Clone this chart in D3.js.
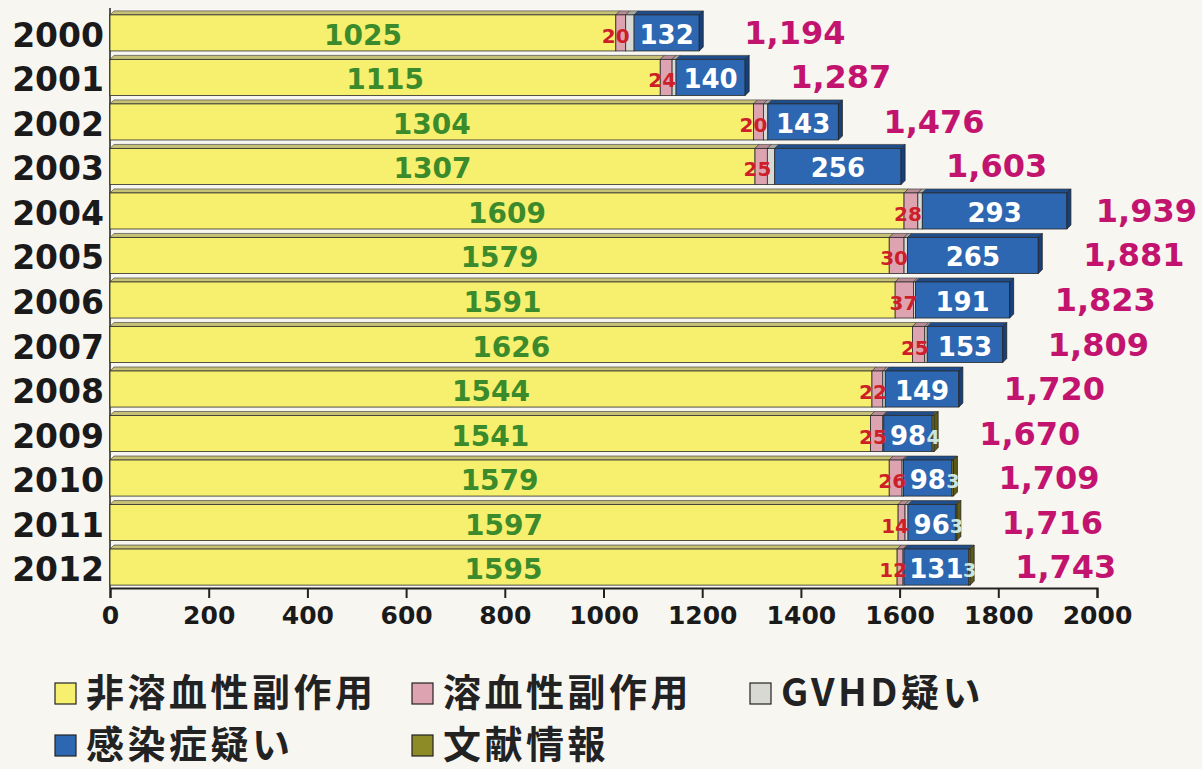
<!DOCTYPE html>
<html><head><meta charset="utf-8">
<script src="https://cdn.jsdelivr.net/npm/d3@7"></script>
<style>
html,body{margin:0;padding:0;background:#f8f6f1;}
svg{display:block;}
</style></head>
<body>
<svg id="chart" width="1202" height="769"></svg>
<script>
const years = ["2000","2001","2002","2003","2004","2005","2006","2007","2008","2009","2010","2011","2012"];
const nonHemolytic = [1025,1115,1304,1307,1609,1579,1591,1626,1544,1541,1579,1597,1595];
const hemolytic    = [20,24,20,25,28,30,37,25,22,25,26,14,12];
const gvhd         = [17,8,9,15,9,7,4,5,5,2,3,6,2];
const infection    = [132,140,143,256,293,265,191,153,149,98,98,96,131];
const literature   = [0,0,0,0,0,0,0,0,0,4,3,3,3];
const totals       = ["1,194","1,287","1,476","1,603","1,939","1,881","1,823","1,809","1,720","1,670","1,709","1,716","1,743"];
const xTicks = [0,200,400,600,800,1000,1200,1400,1600,1800,2000];
const legendNames = ["非溶血性副作用","溶血性副作用","GVHD疑い","感染症疑い","文献情報"];

const seriesKeys = ["nonHemolytic","hemolytic","gvhd","infection","literature"];
const front = {nonHemolytic:"#f6f06e",hemolytic:"#dea3b1",gvhd:"#d9d9d3",infection:"#2d67b1",literature:"#8d8b26"};
const topC  = {nonHemolytic:"#c7c176",hemolytic:"#b98b94",gvhd:"#a9a9a3",infection:"#1f4d8a",literature:"#6b6919"};
const sideC = {nonHemolytic:"#b0aa55",hemolytic:"#a07080",gvhd:"#909090",infection:"#17407a",literature:"#5d5b14"};

const table = years.map((y,i)=>({year:y,nonHemolytic:nonHemolytic[i],hemolytic:hemolytic[i],gvhd:gvhd[i],infection:infection[i],literature:literature[i],total:totals[i]}));
const stack = d3.stack().keys(seriesKeys)(table);

const svg = d3.select("#chart");
const x = d3.scaleLinear().domain([0,2000]).range([110,1097]);
const y = d3.scaleBand().domain(years).range([10,586]).paddingInner(0.1).paddingOuter(0.02);
const bw = y.bandwidth();
const depth = 4;
const num = "'DejaVu Sans', Arial, sans-serif";

svg.append("line").attr("x1",110).attr("x2",110).attr("y1",8).attr("y2",588)
  .attr("stroke","#222").attr("stroke-width",1.5);

const g = svg.append("g");
stack.forEach(layer=>{
  const key = layer.key;
  layer.forEach((d,i)=>{
    const x0 = x(d[0]), x1 = x(d[1]);
    if (x1 - x0 <= 0) return;
    const y0 = y(years[i]);
    g.append("path")
      .attr("d",`M${x0},${y0+depth}L${x0+depth},${y0}L${x1+depth},${y0}L${x1},${y0+depth}Z`)
      .attr("fill",topC[key]).attr("stroke","#333").attr("stroke-width",0.6);
    g.append("rect").attr("x",x0).attr("y",y0+depth).attr("width",x1-x0).attr("height",bw-depth)
      .attr("fill",front[key]).attr("stroke","#2a2a2a").attr("stroke-width",0.8);
  });
});
table.forEach((d,i)=>{
  const last = [...seriesKeys].reverse().find(k=>d[k]>0);
  const tot = seriesKeys.reduce((s,k)=>s+d[k],0);
  const x1 = x(tot), y0 = y(d.year);
  g.append("path")
    .attr("d",`M${x1},${y0+depth}L${x1+depth},${y0}L${x1+depth},${y0+bw-depth}L${x1},${y0+bw}Z`)
    .attr("fill",sideC[last]).attr("stroke","#222").attr("stroke-width",0.8);
});

const ax = svg.append("g").attr("transform","translate(0,588)")
  .call(d3.axisBottom(x).tickValues(xTicks).tickSize(10).tickPadding(8).tickFormat(d3.format("d")));
ax.select(".domain").attr("stroke","#222").attr("stroke-width",2);
ax.selectAll(".tick line").attr("stroke","#222").attr("stroke-width",2);
ax.selectAll("text").attr("font-family",num).attr("font-weight","bold").attr("font-size",25).attr("fill","#1a1a1a");

svg.append("g").selectAll("text").data(years).join("text")
  .attr("x",104).attr("y",d=>y(d)+bw/2+16).attr("text-anchor","end")
  .attr("font-family",num).attr("font-weight","bold").attr("font-size",33).attr("fill","#1a1a1a")
  .text(d=>d);

const labels = svg.append("g");
table.forEach((d,i)=>{
  const s = stack;
  const cy = y(d.year)+bw/2+2;
  const yl = s[0][i];
  labels.append("text").attr("x",(x(yl[0])+x(yl[1]))/2).attr("y",cy+12).attr("text-anchor","middle")
    .attr("font-family",num).attr("font-weight","bold").attr("font-size",28).attr("fill","#3b8a2b").text(d.nonHemolytic);
  const pk = s[1][i];
  labels.append("text").attr("x",x(pk[1])+4).attr("y",cy+10).attr("text-anchor","end")
    .attr("font-family",num).attr("font-weight","bold").attr("font-size",20).attr("fill","#cc1f2a").text(d.hemolytic);
  const bl = s[3][i];
  labels.append("text").attr("x",(x(bl[0])+x(bl[1]))/2).attr("y",cy+11).attr("text-anchor","middle")
    .attr("font-family",num).attr("font-weight","bold").attr("font-size",26).attr("fill","#ffffff").text(d.infection);
  if (d.literature>0){
    const ol = s[4][i];
    labels.append("text").attr("x",x(ol[0])+1).attr("y",cy+10).attr("text-anchor","middle")
      .attr("font-family",num).attr("font-weight","bold").attr("font-size",19).attr("fill","#c9e6e4").text(d.literature);
  }
  const tot = seriesKeys.reduce((a,k)=>a+d[k],0);
  const t = labels.append("text").attr("y",cy+11).attr("text-anchor","start")
    .attr("font-family",num).attr("font-weight","bold").attr("font-size",32).attr("fill","#c2146f").text(d.total);
  const w = t.node().getComputedTextLength();
  t.attr("x",Math.min(x(tot)+45, 1197 - w));
});

const legendPos = [[55,683],[412,683],[750,683],[55,735],[412,735]];
const legendColors = [front.nonHemolytic,front.hemolytic,front.gvhd,front.infection,front.literature];
const lg = svg.append("g");
legendNames.forEach((n,i)=>{
  const [lx,ly] = legendPos[i];
  lg.append("rect").attr("x",lx).attr("y",ly).attr("width",21).attr("height",21)
    .attr("fill",legendColors[i]).attr("stroke","#222").attr("stroke-width",1.2);
  lg.append("text").attr("x",lx+31).attr("y",ly+23)
    .attr("font-family","'Noto Sans CJK JP', sans-serif").attr("font-weight","bold").attr("font-size",38)
    .attr("letter-spacing",3.5).attr("fill","#222").text(n);
});
</script>
</body></html>
